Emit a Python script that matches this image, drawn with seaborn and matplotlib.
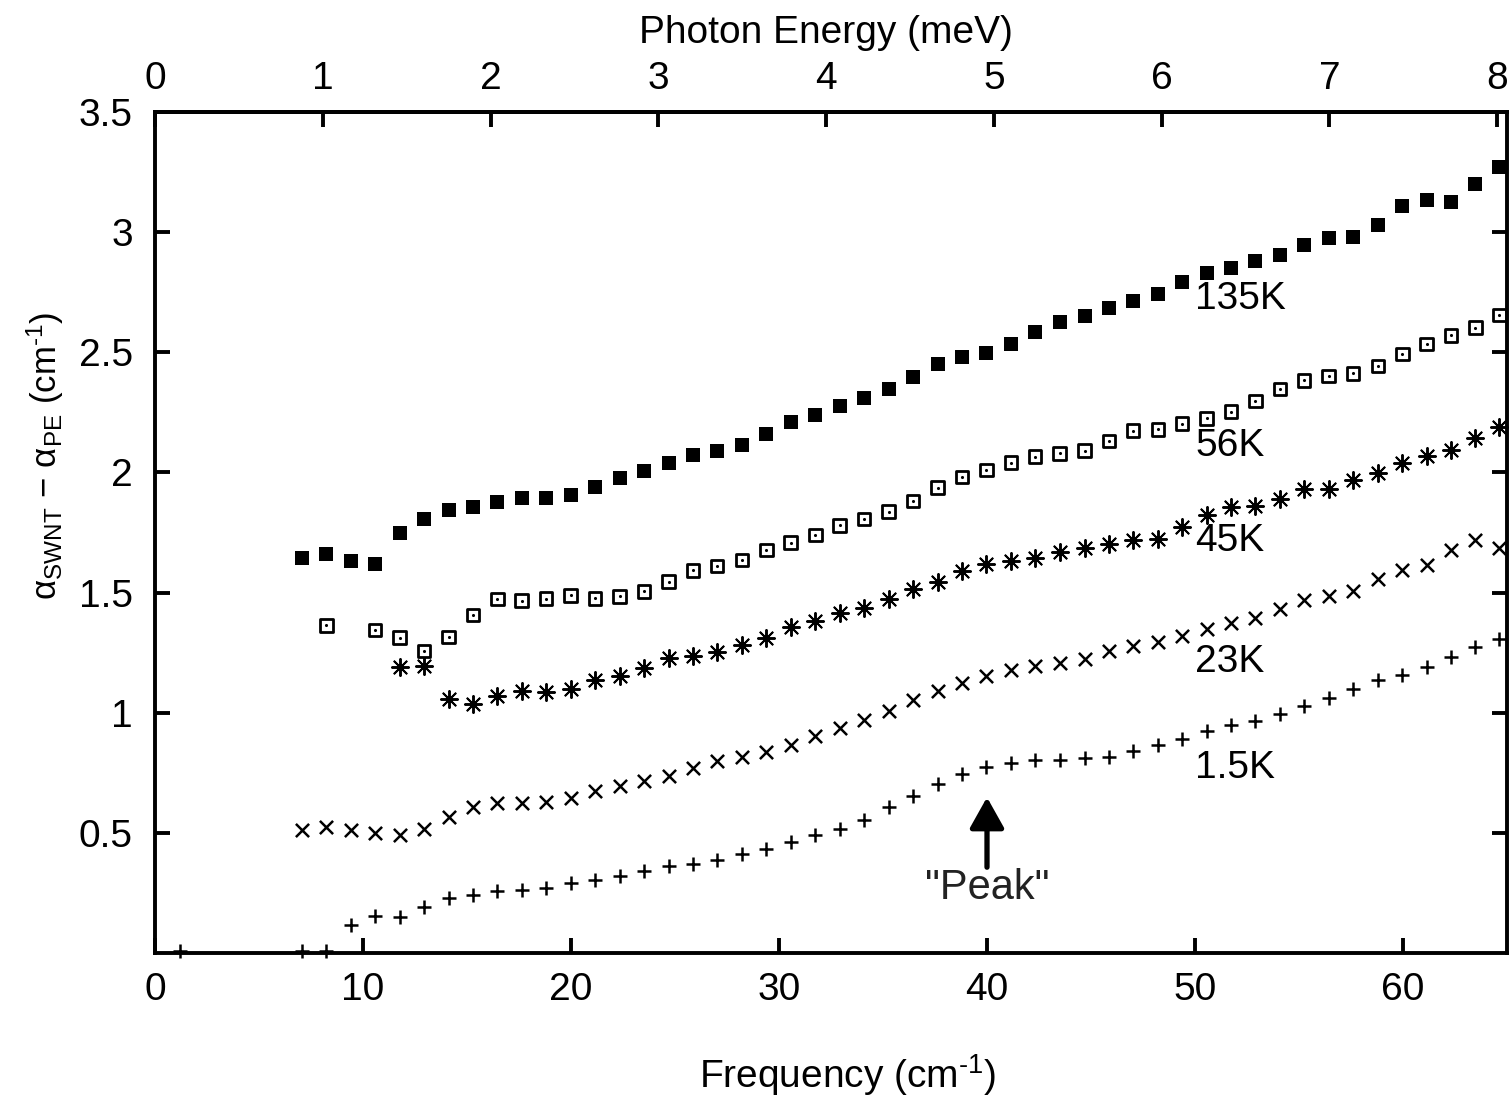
import numpy as np
import pandas as pd
import seaborn as sns
import matplotlib
matplotlib.use("Agg")
import matplotlib.pyplot as plt

# frequency grid (cm^-1) shared by all temperatures
freq = [7.07, 8.24, 9.40, 10.59, 11.76, 12.93, 14.12, 15.29, 16.46, 17.63,
        18.80, 19.98, 21.15, 22.34, 23.52, 24.69, 25.87, 27.03, 28.22, 29.39,
        30.56, 31.75, 32.91, 34.09, 35.27, 36.44, 37.63, 38.80, 39.97, 41.15,
        42.32, 43.49, 44.69, 45.87, 47.03, 48.22, 49.38, 50.56, 51.73, 52.90,
        54.09, 55.25, 56.42, 57.61, 58.80, 59.97, 61.13, 62.32, 63.48, 64.63]

k135 = [1.643, 1.661, 1.630, 1.619, 1.750, 1.806, 1.844, 1.856, 1.876, 1.892,
        1.895, 1.906, 1.940, 1.978, 2.008, 2.041, 2.072, 2.091, 2.114, 2.161,
        2.208, 2.241, 2.278, 2.308, 2.347, 2.399, 2.452, 2.481, 2.498, 2.533,
        2.586, 2.624, 2.650, 2.686, 2.715, 2.741, 2.793, 2.830, 2.852, 2.879,
        2.905, 2.947, 2.974, 2.978, 3.028, 3.110, 3.134, 3.125, 3.200, 3.271]

k56 = [np.nan, 1.363, np.nan, 1.344, 1.313, 1.256, 1.316, 1.406, 1.474, 1.467,
       1.475, 1.488, 1.476, 1.484, 1.505, 1.546, 1.592, 1.610, 1.635, 1.676,
       1.708, 1.740, 1.780, 1.806, 1.837, 1.880, 1.937, 1.982, 2.010, 2.041,
       2.066, 2.079, 2.091, 2.131, 2.174, 2.179, 2.203, 2.225, 2.253, 2.298,
       2.347, 2.383, 2.401, 2.412, 2.442, 2.492, 2.535, 2.570, 2.603, 2.654]

k45 = [np.nan, np.nan, np.nan, np.nan, 1.189, 1.194, 1.058, 1.036, 1.069, 1.091,
       1.086, 1.098, 1.137, 1.154, 1.186, 1.227, 1.238, 1.254, 1.280, 1.313,
       1.355, 1.382, 1.414, 1.435, 1.473, 1.515, 1.542, 1.590, 1.618, 1.632,
       1.643, 1.668, 1.684, 1.701, 1.718, 1.722, 1.773, 1.823, 1.858, 1.862,
       1.888, 1.930, 1.930, 1.968, 1.999, 2.038, 2.070, 2.095, 2.142, 2.190]

k23 = [0.510, 0.524, 0.512, 0.500, 0.493, 0.517, 0.565, 0.607, 0.623, 0.626,
       0.630, 0.645, 0.675, 0.697, 0.715, 0.736, 0.770, 0.798, 0.816, 0.837,
       0.867, 0.902, 0.936, 0.971, 1.008, 1.054, 1.091, 1.123, 1.154, 1.179,
       1.193, 1.205, 1.224, 1.258, 1.276, 1.293, 1.318, 1.348, 1.373, 1.394,
       1.431, 1.470, 1.486, 1.507, 1.556, 1.594, 1.615, 1.676, 1.719, 1.684]

# 1.5K has one extra low-frequency point
freq_k15 = [1.20] + freq
k15 = [0.010, 0.010, 0.010, 0.115, 0.154, 0.150, 0.192, 0.227, 0.241, 0.260,
       0.264, 0.271, 0.292, 0.302, 0.320, 0.343, 0.360, 0.372, 0.386, 0.410,
       0.431, 0.461, 0.490, 0.514, 0.555, 0.607, 0.653, 0.704, 0.745, 0.774,
       0.789, 0.802, 0.805, 0.812, 0.816, 0.840, 0.867, 0.892, 0.923, 0.950,
       0.967, 0.995, 1.027, 1.061, 1.100, 1.135, 1.155, 1.189, 1.232, 1.273,
       1.306]

labels = ['135K', '56K', '45K', '23K', '1.5K']
label_y = [2.72, 2.11, 1.716, 1.213, 0.768]
mev_ticks = [0, 1, 2, 3, 4, 5, 6, 7, 8]
CM_PER_MEV = 8.0655

sns.set_style("ticks")
plt.rcParams['font.family'] = ['Liberation Sans', 'DejaVu Sans']
plt.rcParams['mathtext.fontset'] = 'custom'
plt.rcParams['mathtext.rm'] = 'Liberation Sans'
plt.rcParams['mathtext.it'] = 'Liberation Sans:italic'
plt.rcParams['axes.linewidth'] = 2.8
for k in ['text.color', 'axes.labelcolor', 'axes.edgecolor', 'xtick.color', 'ytick.color']:
    plt.rcParams[k] = 'black'

FS = 28

fig = plt.figure(figsize=(15.09, 10.99), dpi=100)
ax = fig.add_axes([155 / 1509, 1 - 953 / 1099, (1507 - 155) / 1509, (953 - 112) / 1099])

df135 = pd.DataFrame({'f': freq, 'a': k135})
df56 = pd.DataFrame({'f': freq, 'a': k56}).dropna()
df45 = pd.DataFrame({'f': freq, 'a': k45}).dropna()
df23 = pd.DataFrame({'f': freq, 'a': k23})
df15 = pd.DataFrame({'f': freq_k15, 'a': k15})

sns.scatterplot(data=df135, x='f', y='a', ax=ax, marker='s', s=95, color='k',
                linewidth=0, clip_on=False, zorder=5)
sns.scatterplot(data=df56, x='f', y='a', ax=ax, marker='s', s=80, color='k',
                facecolor='none', edgecolor='k', linewidth=2.0, clip_on=False, zorder=5)
sns.scatterplot(data=df56, x='f', y='a', ax=ax, marker='o', s=5, color='k',
                linewidth=0, clip_on=False, zorder=6)
sns.scatterplot(data=df45, x='f', y='a', ax=ax, marker=(8, 2, 0), s=150, color='k',
                linewidth=1.4, clip_on=False, zorder=5)
sns.scatterplot(data=df23, x='f', y='a', ax=ax, marker='x', s=90, color='k',
                linewidth=1.8, clip_on=False, zorder=5)
sns.scatterplot(data=df15, x='f', y='a', ax=ax, marker='+', s=115, color='k',
                linewidth=1.8, clip_on=False, zorder=5)

for lab, yy in zip(labels, label_y):
    ax.text(50.0, yy, lab, fontsize=FS, ha='left', va='center')

# "Peak" arrow
ax.annotate('', xy=(40.0, 0.648), xytext=(40.0, 0.357),
            arrowprops=dict(arrowstyle='-|>,head_length=0.75,head_width=0.42',
                            lw=3.8, color='k', mutation_scale=25, shrinkA=0, shrinkB=0))
ax.text(40.0, 0.27, '"Peak"', fontsize=30, ha='center', va='center', color='#222222')

ax.set_xlim(0, 65)
ax.set_ylim(0, 3.5)
ax.set_xticks([0, 10, 20, 30, 40, 50, 60])
ax.set_yticks([0.5, 1, 1.5, 2, 2.5, 3, 3.5])
ax.set_yticklabels(['0.5', '1', '1.5', '2', '2.5', '3', '3.5'])
ax.tick_params(axis='both', direction='in', length=11, width=2.8, labelsize=FS)
ax.tick_params(axis='y', right=True, pad=16)
ax.tick_params(axis='x', top=False, pad=14)
ax.set_xlabel('')
ax.set_ylabel('')

top = ax.secondary_xaxis('top', functions=(lambda x: x / CM_PER_MEV, lambda e: e * CM_PER_MEV))
top.set_xticks(mev_ticks)
top.tick_params(direction='in', length=11, width=2.8, labelsize=FS, pad=11)
top.spines['top'].set_linewidth(2.8)

fig.text(826 / 1509, 1 - 33 / 1099, 'Photon Energy (meV)', fontsize=FS, ha='center', va='center')
fig.text(848 / 1509, 1 - 1075 / 1099, 'Frequency (cm$^{\\text{-1}}$)', fontsize=FS,
         ha='center', va='center')
fig.text(45 / 1509, 1 - 456 / 1099, 'α$_{\\rm SWNT}$ − α$_{\\rm PE}$ (cm$^{\\text{-1}}$)',
         fontsize=25, ha='center', va='center', rotation=90)

fig.savefig('out.png', dpi=100, facecolor='white')
